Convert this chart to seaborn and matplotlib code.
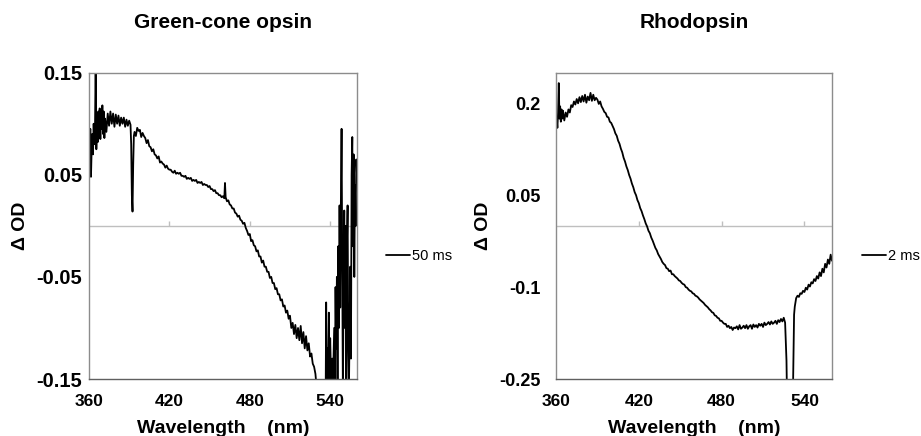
import matplotlib
matplotlib.use('Agg')
import matplotlib.pyplot as plt
import seaborn as sns
import pandas as pd

# green-cone opsin, 50 ms difference spectrum
green_wl = [360, 360.5, 361, 361.5, 362, 362.5, 363, 363.5, 364, 364.5,
            365, 365.5, 366, 366.5, 367, 367.5, 368, 368.5, 369, 369.5,
            370, 370.5, 371, 371.5, 372, 373, 374, 375, 376, 377,
            378, 379, 380, 381, 382, 383, 384, 385, 386, 387,
            388, 389, 390, 391, 391.5, 392, 392.5, 393, 393.5,
            394, 395, 396, 397, 398, 399, 400, 401, 402, 403,
            404, 405, 406, 407, 408, 409, 410, 411, 412, 413,
            414, 415, 416, 417, 418, 419, 420, 421, 422, 423,
            424, 425, 426, 427, 428, 429, 430, 431, 432, 433,
            434, 435, 436, 437, 438, 439, 440, 441, 442, 443,
            444, 445, 446, 447, 448, 449, 450, 451, 452, 453,
            454, 455, 456, 457, 458, 459, 460, 461, 461.5, 462,
            463, 464, 465, 466, 467, 468, 469, 470, 471, 472,
            473, 474, 475, 476, 477, 478, 479, 480, 481, 482,
            483, 484, 485, 486, 487, 488, 489, 490, 491, 492,
            493, 494, 495, 496, 497, 498, 499, 500, 501, 502,
            503, 504, 505, 506, 507, 508, 509, 510, 511,
            512, 513, 514, 515, 516, 517, 518, 519, 520, 521,
            522, 523, 524, 525, 526, 527, 528, 529, 530, 531,
            533, 536.5, 537, 537.5, 538, 538.5, 539, 539.5, 540, 541,
            541.5, 542, 543, 543.5, 544, 544.5, 545, 545.5, 546, 546.5,
            547, 547.5, 548, 548.5, 549, 549.5, 550, 550.5, 551, 551.5,
            552, 552.5, 553, 553.5, 554, 555, 555.5, 556, 556.5, 557,
            557.5, 558, 558.5, 559, 559.5, 560]
green_od = [0.085, 0.060, 0.095, 0.048, 0.075, 0.090, 0.070, 0.100, 0.080, 0.095,
            0.160, 0.075, 0.100, 0.082, 0.112, 0.090, 0.115, 0.085, 0.110, 0.095,
            0.118, 0.090, 0.112, 0.086, 0.105, 0.092, 0.110, 0.098, 0.112, 0.100,
            0.110, 0.097, 0.109, 0.100, 0.108, 0.098, 0.106, 0.100, 0.106, 0.097,
            0.104, 0.098, 0.103, 0.099, 0.080, 0.030, 0.014, 0.060, 0.088,
            0.092, 0.088, 0.096, 0.093, 0.094, 0.087, 0.091, 0.088, 0.086, 0.081,
            0.084, 0.078, 0.077, 0.073, 0.075, 0.070, 0.069, 0.066, 0.068, 0.062,
            0.063, 0.061, 0.060, 0.057, 0.059, 0.056, 0.055, 0.055, 0.053, 0.052,
            0.054, 0.051, 0.052, 0.051, 0.052, 0.049, 0.049, 0.048, 0.049, 0.046,
            0.047, 0.046, 0.047, 0.044, 0.045, 0.044, 0.045, 0.042, 0.043, 0.042,
            0.043, 0.040, 0.041, 0.040, 0.040, 0.038, 0.039, 0.036, 0.036, 0.034,
            0.035, 0.032, 0.032, 0.030, 0.030, 0.028, 0.029, 0.027, 0.042, 0.028,
            0.024, 0.025, 0.021, 0.020, 0.017, 0.017, 0.013, 0.012, 0.009, 0.010,
            0.006, 0.005, 0.002, 0.003, -0.002, -0.005, -0.009, -0.008, -0.015, -0.014,
            -0.019, -0.020, -0.025, -0.024, -0.030, -0.030, -0.036, -0.034, -0.040, -0.040,
            -0.045, -0.045, -0.051, -0.050, -0.056, -0.056, -0.062, -0.061, -0.067, -0.067,
            -0.073, -0.072, -0.079, -0.078, -0.085, -0.083, -0.091, -0.088, -0.100,
            -0.095, -0.106, -0.097, -0.110, -0.100, -0.112, -0.098, -0.115, -0.104, -0.120,
            -0.108, -0.122, -0.115, -0.128, -0.125, -0.135, -0.138, -0.145, -0.160, -0.180,
            -0.200, -0.200, -0.075, -0.150, -0.120, -0.170, -0.085, -0.160, -0.110, -0.170,
            -0.130, -0.160, -0.100, -0.170, -0.060, -0.120, -0.050, -0.160, -0.020, -0.100,
            0.020, -0.080, 0.025, 0.095, -0.030, -0.170, -0.050, 0.015, -0.100, 0.000,
            -0.180, -0.020, 0.020, -0.120, -0.160, -0.040, -0.130, 0.050, 0.087, -0.020,
            0.070, -0.050, 0.040, 0.000, 0.065, 0.050]

# rhodopsin, 2 ms difference spectrum
rho_wl = [360, 360.5, 361, 361.5, 362, 362.5, 363, 363.5, 364, 364.5,
          365, 366, 367, 368, 369, 370, 371, 372, 373, 374,
          375, 376, 377, 378, 379, 380, 381, 382, 383, 384,
          385, 386, 387, 388, 389, 390, 391, 392, 393, 394,
          395, 396, 397, 398, 399, 400, 401, 402, 403, 404,
          405, 406, 407, 408, 409, 410, 411, 412, 413, 414,
          415, 416, 417, 418, 419, 420, 421, 422, 423, 424,
          425, 426, 427, 428, 429, 430, 431, 432, 433, 434,
          435, 436, 437, 438, 439, 440, 441, 442, 443, 444,
          445, 446, 447, 448, 449, 450, 451, 452, 453, 454,
          455, 456, 457, 458, 459, 460, 461, 462, 463, 464,
          465, 466, 467, 468, 469, 470, 471, 472, 473, 474,
          475, 476, 477, 478, 479, 480, 481, 482, 483, 484,
          485, 486, 487, 488, 489, 490, 491, 492, 493, 494,
          495, 496, 497, 498, 499, 500, 501, 502, 503, 504,
          505, 506, 507, 508, 509, 510, 511, 512, 513, 514,
          515, 516, 517, 518, 519, 520, 521, 522, 523, 524,
          525, 526, 527, 527.5, 531.5, 532, 532.5, 533, 534, 535,
          536, 537, 538, 539, 540, 541, 542, 543, 544, 545,
          546, 547, 548, 549, 550, 551, 552, 553, 554, 555,
          556, 557, 558, 559, 560]
rho_od = [0.165, 0.175, 0.160, 0.185, 0.233, 0.175, 0.195, 0.170, 0.190, 0.175,
          0.188, 0.172, 0.185, 0.178, 0.190, 0.185, 0.197, 0.194, 0.203, 0.198,
          0.207, 0.200, 0.210, 0.202, 0.212, 0.203, 0.214, 0.201, 0.211, 0.205,
          0.217, 0.204, 0.214, 0.205, 0.209, 0.206, 0.199, 0.203, 0.195, 0.191,
          0.186, 0.184, 0.178, 0.177, 0.170, 0.168, 0.163, 0.158, 0.151, 0.147,
          0.139, 0.134, 0.126, 0.120, 0.111, 0.105, 0.097, 0.091, 0.083, 0.077,
          0.069, 0.063, 0.055, 0.050, 0.042, 0.037, 0.029, 0.024, 0.017, 0.011,
          0.004, -0.001, -0.008, -0.012, -0.019, -0.024, -0.030, -0.036, -0.040, -0.046,
          -0.050, -0.054, -0.059, -0.062, -0.064, -0.069, -0.070, -0.074, -0.073, -0.079,
          -0.079, -0.082, -0.084, -0.086, -0.089, -0.090, -0.093, -0.095, -0.096, -0.100,
          -0.101, -0.104, -0.106, -0.107, -0.110, -0.111, -0.114, -0.115, -0.117, -0.120,
          -0.122, -0.124, -0.126, -0.129, -0.131, -0.133, -0.136, -0.138, -0.141, -0.142,
          -0.146, -0.147, -0.150, -0.151, -0.155, -0.155, -0.158, -0.160, -0.160, -0.165,
          -0.163, -0.167, -0.165, -0.170, -0.166, -0.167, -0.164, -0.169, -0.162, -0.168,
          -0.166, -0.163, -0.167, -0.162, -0.168, -0.164, -0.162, -0.168, -0.161, -0.165,
          -0.162, -0.166, -0.160, -0.163, -0.160, -0.165, -0.158, -0.162, -0.160, -0.157,
          -0.161, -0.156, -0.160, -0.158, -0.155, -0.160, -0.154, -0.157, -0.152, -0.156,
          -0.150, -0.158, -0.220, -0.300, -0.300, -0.220, -0.145, -0.132, -0.118, -0.114,
          -0.116, -0.110, -0.111, -0.106, -0.108, -0.101, -0.104, -0.096, -0.099, -0.092,
          -0.094, -0.087, -0.090, -0.082, -0.086, -0.076, -0.082, -0.070, -0.076, -0.062,
          -0.068, -0.055, -0.062, -0.047, -0.057]

titles = ['Green-cone opsin', 'Rhodopsin']
labels = ['50 ms', '2 ms']
xticks = [360, 420, 480, 540]
yticks_green = [-0.15, -0.05, 0.05, 0.15]
yticks_rho = [-0.25, -0.1, 0.05, 0.2]
ylims = [(-0.15, 0.15), (-0.25, 0.25)]

sns.set_style('white')
plt.rcParams['font.family'] = ['Liberation Sans', 'DejaVu Sans']
plt.rcParams['text.color'] = 'black'
plt.rcParams['axes.labelcolor'] = 'black'

fig = plt.figure(figsize=(9.21, 4.36), dpi=100)
ax1 = fig.add_axes([0.0966, 0.1307, 0.291, 0.7026])
ax2 = fig.add_axes([0.6037, 0.1307, 0.2997, 0.7026])

green = pd.DataFrame({'wl': green_wl, 'od': green_od})
rho = pd.DataFrame({'wl': rho_wl, 'od': rho_od})

panels = zip([ax1, ax2], [green, rho], titles, labels,
             [yticks_green, yticks_rho], ylims, [14.5, 13], [5, 11])
for ax, df, title, lab, yt, yl, ysize, ypad in panels:
    sns.lineplot(data=df, x='wl', y='od', ax=ax, color='black', lw=1.3,
                 label=lab, estimator=None, sort=False)
    ax.set_xlim(360, 560)
    ax.set_ylim(*yl)
    ax.axhline(0, color='#bfbfbf', lw=1, zorder=0)
    # x tick marks sit on the zero line, pointing up
    ax.vlines(xticks[1:], 0.5, 0.515, transform=ax.get_xaxis_transform(),
              color='#bfbfbf', lw=1, zorder=0)
    ax.set_xticks(xticks)
    ax.set_yticks(yt)
    ax.set_yticklabels(['%g' % v for v in yt])
    ax.tick_params(axis='x', length=0, pad=11, labelsize=12.5, labelcolor='black')
    ax.tick_params(axis='y', length=4, direction='in', color='#9a9a9a',
                   pad=ypad, labelsize=ysize, labelcolor='black')
    for lbl in ax.get_xticklabels() + ax.get_yticklabels():
        lbl.set_fontweight('bold')
    for sp in ax.spines.values():
        sp.set_visible(True)
        sp.set_color('#8c8c8c')
        sp.set_linewidth(1)
    ax.spines['bottom'].set_color('#606060')
    ax.set_xlabel('Wavelength    (nm)', fontsize=14, fontweight='bold', labelpad=8)
    ax.set_ylabel('Δ OD', fontsize=14, fontweight='bold', labelpad=5)
    ax.set_title(title, fontsize=15, fontweight='bold', pad=32)
    ax.legend(loc='center left', bbox_to_anchor=(1.11, 0.40), frameon=False,
              handlelength=1.6, handletextpad=0.15, borderpad=0, borderaxespad=0,
              prop={'size': 10.5})

fig.savefig('out.png', dpi=100)
